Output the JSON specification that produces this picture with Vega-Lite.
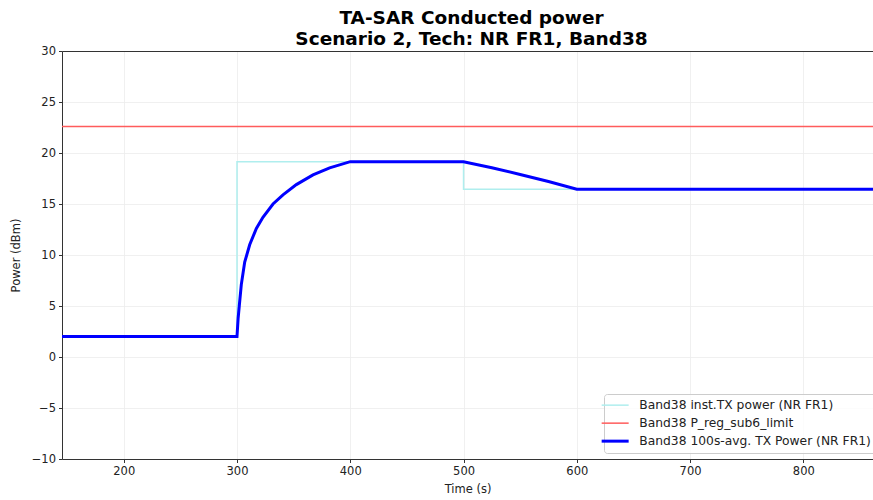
{
  "$schema": "https://vega.github.io/schema/vega-lite/v6.json",
  "autosize": "none",
  "width": 811,
  "height": 408,
  "padding": {"left": 62, "top": 51, "right": 0, "bottom": 41},
  "background": "white",
  "title": {
    "text": ["TA-SAR Conducted power", "Scenario 2, Tech: NR FR1, Band38"],
    "fontSize": 18.5,
    "fontWeight": "bold",
    "font": "DejaVu Sans",
    "color": "#000000",
    "anchor": "middle",
    "lineHeight": 21,
    "offset": -3,
    "dx": 4
  },
  "config": {
    "font": "DejaVu Sans",
    "view": {"stroke": null},
    "axis": {
      "labelFont": "DejaVu Sans",
      "titleFont": "DejaVu Sans",
      "labelFontSize": 11.5,
      "titleFontSize": 11.5,
      "titleFontWeight": "normal",
      "labelColor": "#222222",
      "titleColor": "#222222",
      "domainColor": "#333333",
      "domainWidth": 1,
      "tickColor": "#333333",
      "tickSize": 3.5,
      "labelPadding": 3,
      "gridColor": "#ececec",
      "gridWidth": 0.8
    },
    "legend": {
      "labelFont": "DejaVu Sans",
      "labelFontSize": 12.3,
      "labelColor": "#222222"
    }
  },
  "data": {
    "values": [
      {"series": "Band38 inst.TX power (NR FR1)", "t": 145.5, "p": 2.0},
      {"series": "Band38 inst.TX power (NR FR1)", "t": 300, "p": 19.15},
      {"series": "Band38 inst.TX power (NR FR1)", "t": 500, "p": 16.45},
      {"series": "Band38 inst.TX power (NR FR1)", "t": 861.5, "p": 16.45},
      {"series": "Band38 P_reg_sub6_limit", "t": 145.5, "p": 22.6},
      {"series": "Band38 P_reg_sub6_limit", "t": 861.5, "p": 22.6},
      {"series": "Band38 100s-avg. TX Power (NR FR1)", "t": 145.5, "p": 2.0},
      {"series": "Band38 100s-avg. TX Power (NR FR1)", "t": 300, "p": 2.0},
      {"series": "Band38 100s-avg. TX Power (NR FR1)", "t": 301, "p": 3.8},
      {"series": "Band38 100s-avg. TX Power (NR FR1)", "t": 302, "p": 5.0},
      {"series": "Band38 100s-avg. TX Power (NR FR1)", "t": 303.8, "p": 7.1},
      {"series": "Band38 100s-avg. TX Power (NR FR1)", "t": 306.8, "p": 9.3},
      {"series": "Band38 100s-avg. TX Power (NR FR1)", "t": 311.2, "p": 11.0},
      {"series": "Band38 100s-avg. TX Power (NR FR1)", "t": 317.1, "p": 12.6},
      {"series": "Band38 100s-avg. TX Power (NR FR1)", "t": 322.9, "p": 13.7},
      {"series": "Band38 100s-avg. TX Power (NR FR1)", "t": 331.8, "p": 15.0},
      {"series": "Band38 100s-avg. TX Power (NR FR1)", "t": 340.6, "p": 15.9},
      {"series": "Band38 100s-avg. TX Power (NR FR1)", "t": 352.4, "p": 16.9},
      {"series": "Band38 100s-avg. TX Power (NR FR1)", "t": 367.1, "p": 17.85},
      {"series": "Band38 100s-avg. TX Power (NR FR1)", "t": 381.8, "p": 18.55},
      {"series": "Band38 100s-avg. TX Power (NR FR1)", "t": 400, "p": 19.15},
      {"series": "Band38 100s-avg. TX Power (NR FR1)", "t": 500, "p": 19.15},
      {"series": "Band38 100s-avg. TX Power (NR FR1)", "t": 525, "p": 18.55},
      {"series": "Band38 100s-avg. TX Power (NR FR1)", "t": 550, "p": 17.9},
      {"series": "Band38 100s-avg. TX Power (NR FR1)", "t": 575, "p": 17.2},
      {"series": "Band38 100s-avg. TX Power (NR FR1)", "t": 600, "p": 16.45},
      {"series": "Band38 100s-avg. TX Power (NR FR1)", "t": 861.5, "p": 16.45}
    ]
  },
  "encoding": {
    "x": {
      "field": "t",
      "type": "quantitative",
      "scale": {"domain": [145.5, 861.5], "nice": false, "zero": false}
    },
    "y": {
      "field": "p",
      "type": "quantitative",
      "scale": {"domain": [-10, 30], "nice": false},
      "axis": {"title": "Power (dBm)", "values": [-10, -5, 0, 5, 10, 15, 20, 25, 30], "titlePadding": 10}
    },
    "color": {
      "field": "series",
      "type": "nominal",
      "scale": {
        "domain": ["Band38 inst.TX power (NR FR1)", "Band38 P_reg_sub6_limit", "Band38 100s-avg. TX Power (NR FR1)"],
        "range": ["#afeeee", "#ff5c5c", "#0000ff"]
      },
      "legend": {
        "title": null,
        "orient": "none",
        "legendX": 542,
        "legendY": 343,
        "symbolType": "stroke",
        "symbolSize": 729,
        "padding": 5,
        "rowPadding": 5,
        "labelOffset": 18,
        "labelLimit": 400,
        "fillColor": "rgba(255,255,255,0.8)",
        "strokeColor": "#cccccc",
        "cornerRadius": 3,
        "encode": {
          "symbols": {
            "update": {
              "strokeWidth": {"signal": "datum.value === 'Band38 100s-avg. TX Power (NR FR1)' ? 3 : 1.5"}
            }
          }
        }
      }
    }
  },
  "resolve": {"axis": {"x": "independent"}},
  "layer": [
    {
      "transform": [{"filter": "datum.series === 'Band38 inst.TX power (NR FR1)'"}],
      "mark": {"type": "line", "interpolate": "step-after", "clip": true, "strokeWidth": 1.5},
      "encoding": {
        "x": {
          "field": "t",
          "type": "quantitative",
          "axis": {"title": "Time (s)", "values": [200, 300, 400, 500, 600, 700, 800], "titlePadding": 6}
        }
      }
    },
    {
      "transform": [{"filter": "datum.series === 'Band38 P_reg_sub6_limit'"}],
      "mark": {"type": "line", "clip": true, "strokeWidth": 1.5},
      "encoding": {
        "x": {
          "field": "t",
          "type": "quantitative",
          "axis": {"orient": "top", "labels": false, "ticks": false, "grid": false, "title": null, "domain": true}
        }
      }
    },
    {
      "transform": [{"filter": "datum.series === 'Band38 100s-avg. TX Power (NR FR1)'"}],
      "mark": {"type": "line", "clip": true, "strokeWidth": 3},
      "encoding": {
        "x": {"field": "t", "type": "quantitative", "axis": null}
      }
    }
  ]
}
